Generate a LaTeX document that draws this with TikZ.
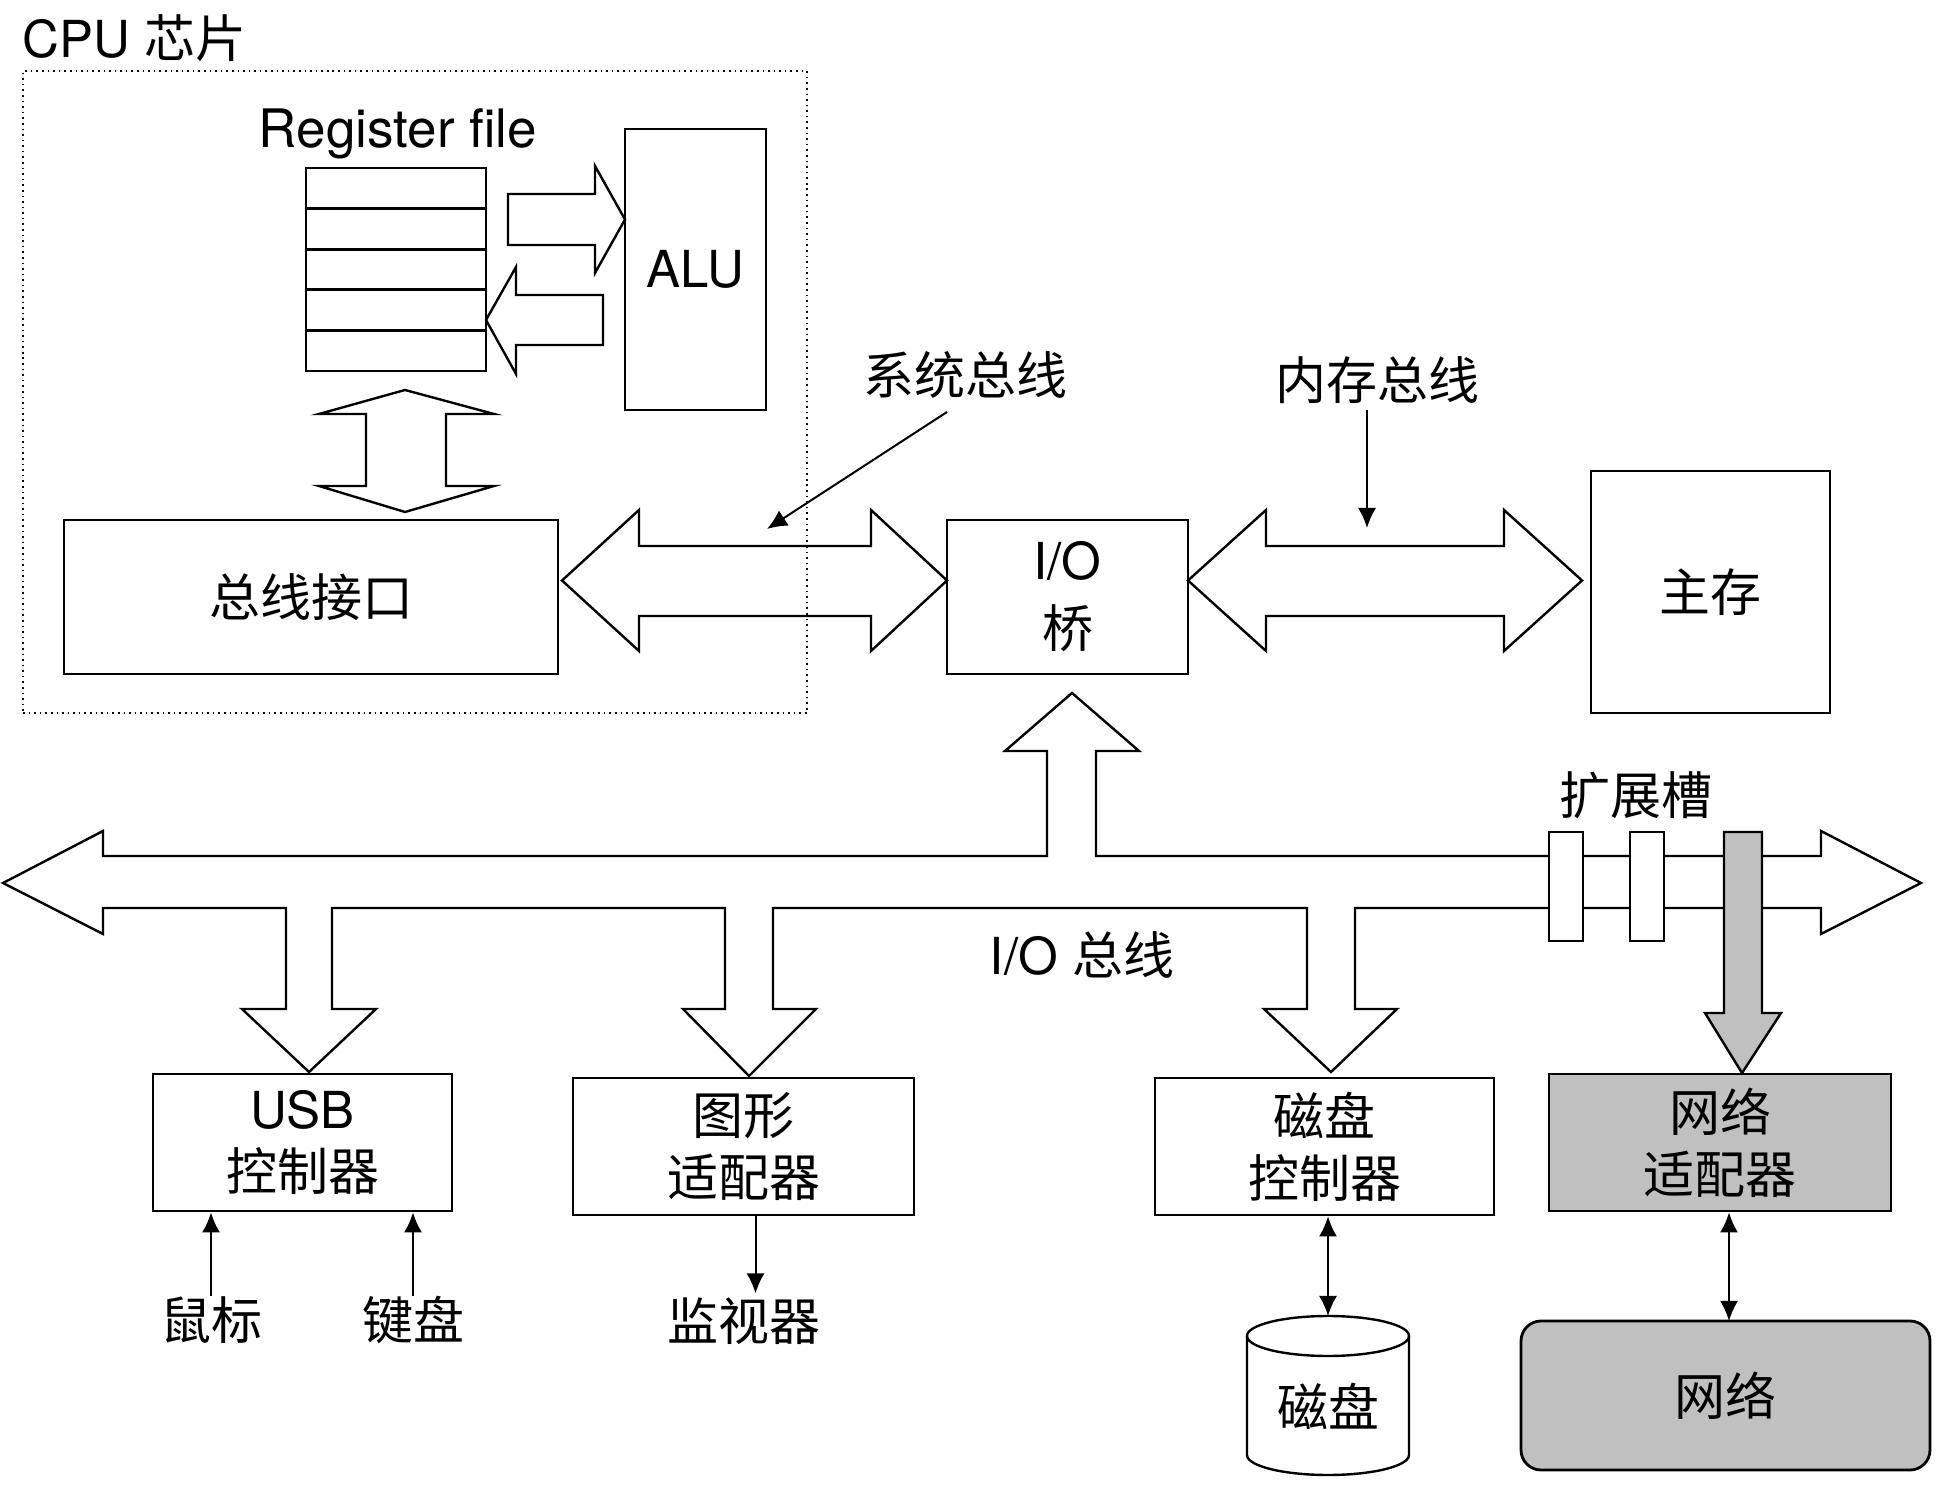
\documentclass[tikz,border=0pt]{standalone}
\usepackage{fontspec}
\setmainfont{TeX Gyre Heros}
\newfontfamily\zh{Noto Sans CJK SC}
\usepackage{tikz}
\usetikzlibrary{arrows.meta}
\usetikzlibrary{shapes}
\definecolor{netgray}{RGB}{192,192,192}

\begin{document}
\begin{tikzpicture}[>={Latex[length=10bp,width=9bp]},line join=miter,
  box/.style={draw,line width=1.4bp,inner sep=0pt},
  txt/.style={inner sep=0pt,align=center,font=\fontsize{25.5bp}{31bp}\selectfont},
  blk/.style={draw,line width=1.2bp,fill=white},
  ptr/.style={line width=1bp}]
\useasboundingbox (0bp,0bp) rectangle (980bp,744bp);
%%
\node (node_cpulabel) at (11bp,725bp) [txt,anchor=west] {CPU \zh 芯片};
  \node (node_regfile) at (199bp,677bp) [txt,font=\fontsize{26.5bp}{31bp}\selectfont] {Register file};
  \node (node_reg_1) at (198bp,649.85bp) [box,minimum width=90bp,minimum height=20.3bp] {};
  \node (node_reg_2) at (198bp,629.55bp) [box,minimum width=90bp,minimum height=20.3bp] {};
  \node (node_reg_3) at (198bp,609.25bp) [box,minimum width=90bp,minimum height=20.3bp] {};
  \node (node_reg_4) at (198bp,588.95bp) [box,minimum width=90bp,minimum height=20.3bp] {};
  \node (node_reg_5) at (198bp,568.65bp) [box,minimum width=90bp,minimum height=20.3bp] {};
  \node (node_alu) at (347.75bp,609.25bp) [box,txt,minimum width=70.5bp,minimum height=140.5bp] {ALU};
  \node (node_busif) at (155.5bp,445.5bp) [box,txt,minimum width=247bp,minimum height=77bp] {\zh 总线接口};
  \node (node_bridge) at (533.75bp,445.5bp) [box,txt,minimum width=120.5bp,minimum height=77bp] {I/O\\[3bp]\zh 桥};
  \node (node_mem) at (855.25bp,448bp) [box,txt,minimum width=119.5bp,minimum height=121bp] {\zh 主存};
  \node (node_sysbus) at (482.5bp,556.5bp) [txt] {\zh 系统总线};
  \node (node_membus) at (688.5bp,554bp) [txt] {\zh 内存总线};
  \node (node_iobus) at (541bp,266.5bp) [txt] {I/O \zh 总线};
  \node (node_slots) at (818bp,346.5bp) [txt] {\zh 扩展槽};
  \node (node_usb) at (151.25bp,172.75bp) [box,txt,minimum width=149.5bp,minimum height=68.5bp] {USB\\\zh 控制器};
  \node (node_gfx) at (371.75bp,170.75bp) [box,txt,minimum width=170.5bp,minimum height=68.5bp] {\zh 图形\\\zh 适配器};
  \node (node_diskctl) at (662.25bp,170.75bp) [box,txt,minimum width=169.5bp,minimum height=68.5bp] {\zh 磁盘\\\zh 控制器};
  \node (node_netadp) at (860bp,172.75bp) [box,txt,fill=netgray,minimum width=171bp,minimum height=68.5bp] {\zh 网络\\\zh 适配器};
  \node (node_net) at (862.75bp,46.25bp) [box,txt,fill=netgray,rounded corners=10bp,minimum width=204.5bp,minimum height=74.5bp] {\zh 网络};
  \node (node_mouse) at (105.5bp,84bp) [txt] {\zh 鼠标};
  \node (node_kbd) at (206.5bp,84bp) [txt] {\zh 键盘};
  \node (node_monitor) at (372bp,83.5bp) [txt] {\zh 监视器};
  \coordinate (sys_from) at (473.5bp,538bp);
  \coordinate (sys_to) at (383.5bp,479.5bp);
  \coordinate (mem_from) at (683.5bp,539bp);
  \coordinate (mem_to) at (683.5bp,480bp);
  \coordinate (disk_top) at (664bp,86bp);
  \coordinate (net_top) at (864.5bp,83.5bp);
%
% block arrows inside the chip
\draw [blk] (254bp,647bp) -- (297.5bp,647bp) -- (297.5bp,661bp) -- (312.5bp,634.25bp) -- (297.5bp,607.5bp) -- (297.5bp,621.5bp) -- (254bp,621.5bp) -- cycle;
  \draw [blk] (301.5bp,596.5bp) -- (258bp,596.5bp) -- (258bp,610.5bp) -- (243bp,584bp) -- (258bp,557bp) -- (258bp,571.5bp) -- (301.5bp,571.5bp) -- cycle;
  \draw [blk] (202.5bp,549bp) -- (247bp,537bp) -- (223bp,537bp) -- (223bp,501bp) -- (247bp,501bp) -- (202.5bp,488bp) -- (159.5bp,501bp) -- (183bp,501bp) -- (183bp,537bp) -- (159.5bp,537bp) -- cycle;
% system bus and memory bus
\draw [blk] (281bp,453.75bp) -- (319.5bp,489bp) -- (319.5bp,471bp) -- (435.5bp,471bp) -- (435.5bp,489bp) -- (473.5bp,453.75bp) -- (435.5bp,418.5bp) -- (435.5bp,436bp) -- (319.5bp,436bp) -- (319.5bp,418.5bp) -- cycle;
  \draw [blk] (594bp,453.75bp) -- (633bp,489bp) -- (633bp,471bp) -- (752bp,471bp) -- (752bp,489bp) -- (791bp,453.75bp) -- (752bp,418.5bp) -- (752bp,436bp) -- (633bp,436bp) -- (633bp,418.5bp) -- cycle;
% I/O bus with its branches
\draw [blk] (1.5bp,302.5bp) -- (51.5bp,328.5bp) -- (51.5bp,316bp) -- (523.5bp,316bp) -- (523.5bp,368.5bp) -- (502.5bp,368.5bp) -- (536bp,397.5bp) -- (569.5bp,368.5bp) -- (548bp,368.5bp) -- (548bp,316bp) -- (910.5bp,316bp) -- (910.5bp,328.5bp) -- (960.5bp,302.5bp) -- (910.5bp,277bp) -- (910.5bp,290bp)
  -- (677.5bp,290bp) -- (677.5bp,239.5bp) -- (698.5bp,239.5bp) -- (665.5bp,208bp) -- (632bp,239.5bp) -- (653.5bp,239.5bp) -- (653.5bp,290bp)
  -- (386.5bp,290bp) -- (386.5bp,239.5bp) -- (408bp,239.5bp) -- (374.5bp,206bp) -- (341.5bp,239.5bp) -- (362.5bp,239.5bp) -- (362.5bp,290bp)
  -- (166bp,290bp) -- (166bp,239.5bp) -- (188bp,239.5bp) -- (154.5bp,208bp) -- (121bp,239.5bp) -- (143bp,239.5bp) -- (143bp,290bp)
  -- (51.5bp,290bp) -- (51.5bp,277bp) -- cycle;
  \draw [blk] (774.5bp,328bp) rectangle (791.5bp,273.5bp);
  \draw [blk] (815bp,328bp) rectangle (832bp,273.5bp);
  \draw [blk,fill=netgray] (862bp,328bp) -- (881bp,328bp) -- (881bp,237.5bp) -- (890.5bp,237.5bp) -- (871bp,207.5bp) -- (852.5bp,237.5bp) -- (862bp,237.5bp) -- cycle;
% disk
\draw [blk] (623.5bp,76bp) -- (623.5bp,16.5bp) arc [start angle=180,end angle=360,x radius=40.5bp,y radius=10bp] -- (704.5bp,76bp) arc [start angle=0,end angle=180,x radius=40.5bp,y radius=10bp] -- cycle;
  \draw [line width=1.2bp] (623.5bp,76bp) arc [start angle=180,end angle=360,x radius=40.5bp,y radius=10bp];
  \node (node_disk) at (664bp,41bp) [txt] {\zh 磁盘};
%
\draw [ptr,->] (sys_from) -- (sys_to);
  \draw [ptr,->] (mem_from) -- (mem_to);
  \draw [ptr,->] (node_mouse.north) -- (node_mouse.north |- node_usb.south);
  \draw [ptr,->] (node_kbd.north) -- (node_kbd.north |- node_usb.south);
  \draw [ptr,->] (node_gfx.south) ++(6bp,0bp) -- ++(0bp,-38.5bp);
  \draw [ptr,<->] (node_diskctl.south -| disk_top) -- (disk_top);
  \draw [ptr,<->] (node_netadp.south -| net_top) -- (net_top);
%
\node (node_cpu) at (207.5bp,548bp) [draw,dotted,line width=0.8bp,minimum width=392bp,minimum height=321bp] {};
%
\end{tikzpicture}
\end{document}
